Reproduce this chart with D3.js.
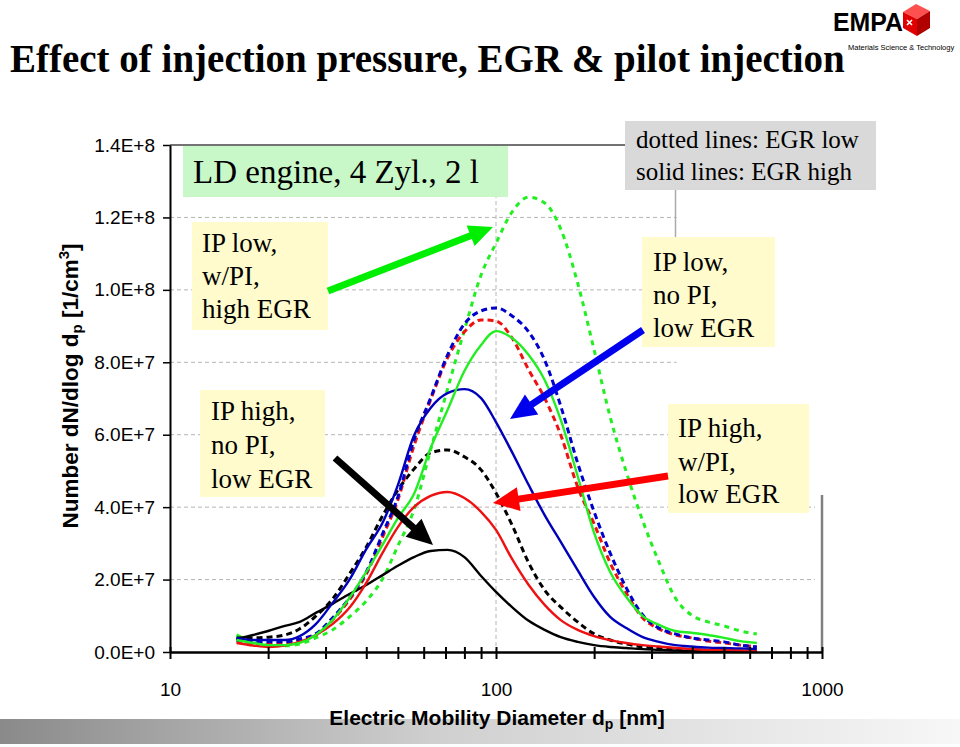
<!DOCTYPE html>
<html><head><meta charset="utf-8">
<script src="https://cdn.jsdelivr.net/npm/d3@7"></script>
<style>body{margin:0;background:#fff} svg{display:block}</style>
</head><body>
<svg id="c" width="960" height="747"></svg>
<script>
// ---------------- DATA ----------------
const diameters = [16,18,20,22.5,25,28,31.5,35.5,40,45,50,56,63,71,80,90,100,112,126,141,158,178,200,224,251,282,316,355,398,447,501,562,631];
// values in units of 1e7 particles / cm3
const blackSolid  = [0.36,0.47,0.58,0.72,0.83,1.08,1.33,1.60,1.85,2.13,2.38,2.62,2.79,2.82,2.62,2.10,1.66,1.24,0.86,0.61,0.41,0.28,0.19,0.14,0.11,0.08,0.06,0.04,0.03,0.03,0.03,0.01,0.01];
const blackDashed = [0.39,0.39,0.41,0.47,0.64,0.99,1.46,2.15,2.90,3.78,4.47,5.05,5.50,5.58,5.39,5.03,4.39,3.51,2.46,1.71,1.24,0.83,0.50,0.33,0.22,0.14,0.10,0.07,0.06,0.04,0.03,0.03,0.03];
const redSolid    = [0.25,0.18,0.14,0.18,0.28,0.47,0.77,1.22,1.91,2.76,3.45,4.00,4.31,4.42,4.25,3.87,3.37,2.57,1.85,1.30,0.88,0.61,0.44,0.33,0.25,0.19,0.15,0.11,0.08,0.06,0.06,0.04,0.03];
const redDashed   = [0.30,0.25,0.22,0.25,0.33,0.47,0.88,1.44,2.15,3.20,4.20,5.69,6.96,8.12,8.84,9.17,9.14,8.67,7.79,7.01,5.99,4.56,3.54,2.46,1.63,0.94,0.64,0.47,0.39,0.30,0.25,0.19,0.14];
const blueSolid   = [0.39,0.33,0.33,0.33,0.44,0.77,1.35,1.99,2.84,3.59,4.61,5.97,6.74,7.15,7.26,7.01,6.35,5.52,4.61,3.78,3.04,2.26,1.52,0.97,0.66,0.41,0.28,0.19,0.15,0.12,0.11,0.10,0.08];
const blueDashed  = [0.33,0.30,0.28,0.28,0.36,0.50,0.94,1.49,2.21,3.29,4.28,5.85,7.01,8.20,9.06,9.42,9.50,9.28,8.84,8.06,6.79,5.22,3.87,2.73,1.77,1.02,0.66,0.50,0.39,0.33,0.28,0.19,0.14];
const greenSolid  = [0.33,0.25,0.19,0.19,0.25,0.47,0.88,1.49,2.21,2.98,3.70,4.36,5.63,6.68,7.76,8.48,8.86,8.67,8.20,7.51,6.41,4.86,3.29,2.21,1.52,0.99,0.75,0.58,0.53,0.47,0.39,0.30,0.25];
const greenDashed = [0.47,0.28,0.19,0.17,0.22,0.39,0.61,0.97,1.41,2.04,2.93,3.92,5.58,7.26,8.89,10.41,11.29,12.15,12.56,12.40,11.68,10.19,8.34,6.49,4.97,3.62,2.49,1.49,1.02,0.83,0.72,0.58,0.50];
const UNIT = 1e7;

const yTicks = [0,2e7,4e7,6e7,8e7,1e8,1.2e8,1.4e8];
const yTickLabels = ["0.0E+0","2.0E+7","4.0E+7","6.0E+7","8.0E+7","1.0E+8","1.2E+8","1.4E+8"];
const xMajor = [10,100,1000];
const xMajorLabels = ["10","100","1000"];

const seriesList = [
  {vals: greenDashed, color:"#22ee22", dash:"5,5"},
  {vals: blackDashed, color:"#000000", dash:"6,4"},
  {vals: redDashed,   color:"#ee1111", dash:"6,4"},
  {vals: blueDashed,  color:"#0000cc", dash:"6,4"},
  {vals: blackSolid,  color:"#000000", dash:null},
  {vals: redSolid,    color:"#ee1111", dash:null},
  {vals: blueSolid,   color:"#0000bb", dash:null},
  {vals: greenSolid,  color:"#22ee22", dash:null}
];

// ---------------- DRAW ----------------
const svg = d3.select("#c");
const SERIF = "'Liberation Serif','Times New Roman',serif";
const SANS = "'Liberation Sans',Arial,sans-serif";

const x = d3.scaleLog().domain([10,1000]).range([170,822]);
const y = d3.scaleLinear().domain([0,1.4e8]).range([652,145]);

// bottom gradient band
const defs = svg.append("defs");
const grad = defs.append("linearGradient").attr("id","band").attr("x1","0").attr("x2","1").attr("y1","0").attr("y2","0");
grad.append("stop").attr("offset","0").attr("stop-color","#8a8a8a");
grad.append("stop").attr("offset","0.45").attr("stop-color","#cfcfcf");
grad.append("stop").attr("offset","1").attr("stop-color","#f7f7f7");
svg.append("rect").attr("x",0).attr("y",719).attr("width",960).attr("height",25).attr("fill","url(#band)");

// title
svg.append("text").attr("x",10).attr("y",72).attr("font-family",SERIF).attr("font-weight","bold")
  .attr("font-size",39).attr("fill","#000").text("Effect of injection pressure, EGR & pilot injection");

// logo
const logo = svg.append("g");
logo.append("text").attr("x",833).attr("y",31).attr("font-family",SANS).attr("font-weight","bold")
  .attr("font-size",25).attr("textLength",70).attr("lengthAdjust","spacingAndGlyphs").text("EMPA");
logo.append("polygon").attr("points","903,12 916,4 930,11 917,19").attr("fill","#ff5050");
logo.append("polygon").attr("points","903,12 917,19 917,36 903,28").attr("fill","#e00000");
logo.append("polygon").attr("points","917,19 930,11 930,28 917,36").attr("fill","#b00000");
logo.append("path").attr("d","M907,20 L912,25 M912,20 L907,25").attr("stroke","#fff").attr("stroke-width",1.6);
logo.append("text").attr("x",848).attr("y",50).attr("font-family",SANS).attr("font-size",7.5)
  .text("Materials Science & Technology");

// gridlines
const grid = svg.append("g").attr("stroke","#b4b4b4").attr("stroke-width",1).attr("stroke-dasharray","4,3");
yTicks.filter(v => v > 0 && v < 1.4e8).forEach(v => {
  grid.append("line").attr("x1",170).attr("x2",815).attr("y1",y(v)).attr("y2",y(v));
});
grid.append("line").attr("x1",x(100)).attr("x2",x(100)).attr("y1",145).attr("y2",652);

// plot borders
svg.append("line").attr("x1",170).attr("x2",676).attr("y1",145).attr("y2",145).attr("stroke","#444").attr("stroke-width",1.5);
svg.append("line").attr("x1",822).attr("x2",822).attr("y1",495).attr("y2",652).attr("stroke","#808080").attr("stroke-width",2.5);

// curves
const line = d3.line().x(p => x(p.d)).y(p => y(p.v)).curve(d3.curveMonotoneX);
seriesList.forEach(s => {
  const pts = diameters.map((d,i) => ({d, v: s.vals[i]*UNIT}));
  svg.append("path").datum(pts).attr("d",line).attr("fill","none")
    .attr("stroke",s.color).attr("stroke-width", s.dash ? 3 : 2.4)
    .attr("stroke-dasharray", s.dash);
});

// white cover of upper right part of plot area
svg.append("rect").attr("x",676.5).attr("y",138).attr("width",290).attr("height",356).attr("fill","#fff");
svg.append("line").attr("x1",675.5).attr("x2",675.5).attr("y1",190).attr("y2",238).attr("stroke","#aaa").attr("stroke-width",1.5);

// y axis
const yAxis = svg.append("g").attr("transform","translate(170,0)")
  .call(d3.axisLeft(y).tickValues(yTicks).tickFormat((d,i)=>yTickLabels[i]).tickSize(7).tickSizeOuter(0).tickPadding(8));
yAxis.select(".domain").attr("stroke","#000").attr("stroke-width",2);
yAxis.selectAll(".tick line").attr("stroke","#000").attr("stroke-width",1.5);
yAxis.selectAll(".tick text").attr("font-family",SANS).attr("font-size",19).attr("fill","#000");

// x axis
const xAll = [];
[10,100].forEach(b => { for (let k=1;k<10;k++) xAll.push(b*k); });
xAll.push(1000);
const xAxis = svg.append("g").attr("transform","translate(0,652)")
  .call(d3.axisBottom(x).tickValues(xAll).tickSize(6).tickSizeOuter(0)
    .tickFormat(d => { const i = xMajor.indexOf(d); return i >= 0 ? xMajorLabels[i] : ""; }));
xAxis.select(".domain").attr("stroke","#000").attr("stroke-width",2.5);
xAxis.selectAll(".tick line").attr("stroke","#000").attr("stroke-width",2).attr("y1",-5).attr("y2",7);
xAxis.selectAll(".tick text").attr("font-family",SANS).attr("font-size",19).attr("fill","#000").attr("y",31);

// axis titles
const yt = svg.append("text").attr("transform","translate(78,386) rotate(-90)").attr("text-anchor","middle")
  .attr("font-family",SANS).attr("font-weight","bold").attr("font-size",22.5).attr("fill","#000");
yt.append("tspan").text("Number dN/dlog d");
yt.append("tspan").attr("font-size",15).attr("dy",4).text("p");
yt.append("tspan").attr("dy",-4).text(" [1/cm");
yt.append("tspan").attr("font-size",15).attr("dy",-9).text("3");
yt.append("tspan").attr("dy",9).text("]");

const xt = svg.append("text").attr("x",497).attr("y",725).attr("text-anchor","middle")
  .attr("font-family",SANS).attr("font-weight","bold").attr("font-size",21).attr("fill","#000");
xt.append("tspan").text("Electric Mobility Diameter d");
xt.append("tspan").attr("font-size",14).attr("dy",4).text("p");
xt.append("tspan").attr("dy",-4).text(" [nm]");

// boxes
function box(x0,y0,w,h,fill,lines,tx,baselines,fs){
  svg.append("rect").attr("x",x0).attr("y",y0).attr("width",w).attr("height",h).attr("fill",fill);
  lines.forEach((t,i)=>{
    svg.append("text").attr("x",tx).attr("y",baselines[i]).attr("font-family",SERIF)
      .attr("font-size",fs).attr("fill","#000").text(t);
  });
}
box(183,146,325,51,"#c8f7c8",["LD engine, 4 Zyl., 2 l"],193,[183],33);
box(625,121,251,69,"#d9d9d9",["dotted lines: EGR low","solid lines: EGR high"],636,[148,180],25);
box(192,222,136,108,"#fffbcc",["IP low,","w/PI,","high EGR"],202,[252,285,318],27);
box(200,390,125,107,"#fffbcc",["IP high,","no PI,","low EGR"],211,[420,454,488],27);
box(642,237,133,110,"#fffbcc",["IP low,","no PI,","low EGR"],653,[271,304,337],27);
box(668,404,141,109,"#fffbcc",["IP high,","w/PI,","low EGR"],678,[437,471,503],27);

// arrows
function arrow(x1,y1,x2,y2,color,w,hl,hw){
  const dx=x2-x1, dy=y2-y1, L=Math.hypot(dx,dy), ux=dx/L, uy=dy/L;
  const bx=x2-ux*hl, by=y2-uy*hl;
  svg.append("line").attr("x1",x1).attr("y1",y1).attr("x2",bx+ux*2).attr("y2",by+uy*2)
    .attr("stroke",color).attr("stroke-width",w);
  svg.append("polygon").attr("points",
    `${x2},${y2} ${bx-uy*hw/2},${by+ux*hw/2} ${bx+uy*hw/2},${by-ux*hw/2}`).attr("fill",color);
}
arrow(328,291,493,227,"#00ee00",7,24,22);
arrow(335,458,433,545,"#000000",7,26,24);
arrow(643,330,510,419,"#0000ee",7,26,24);
arrow(668,476,493,503,"#ff0000",7,26,24);
</script>
</body></html>
